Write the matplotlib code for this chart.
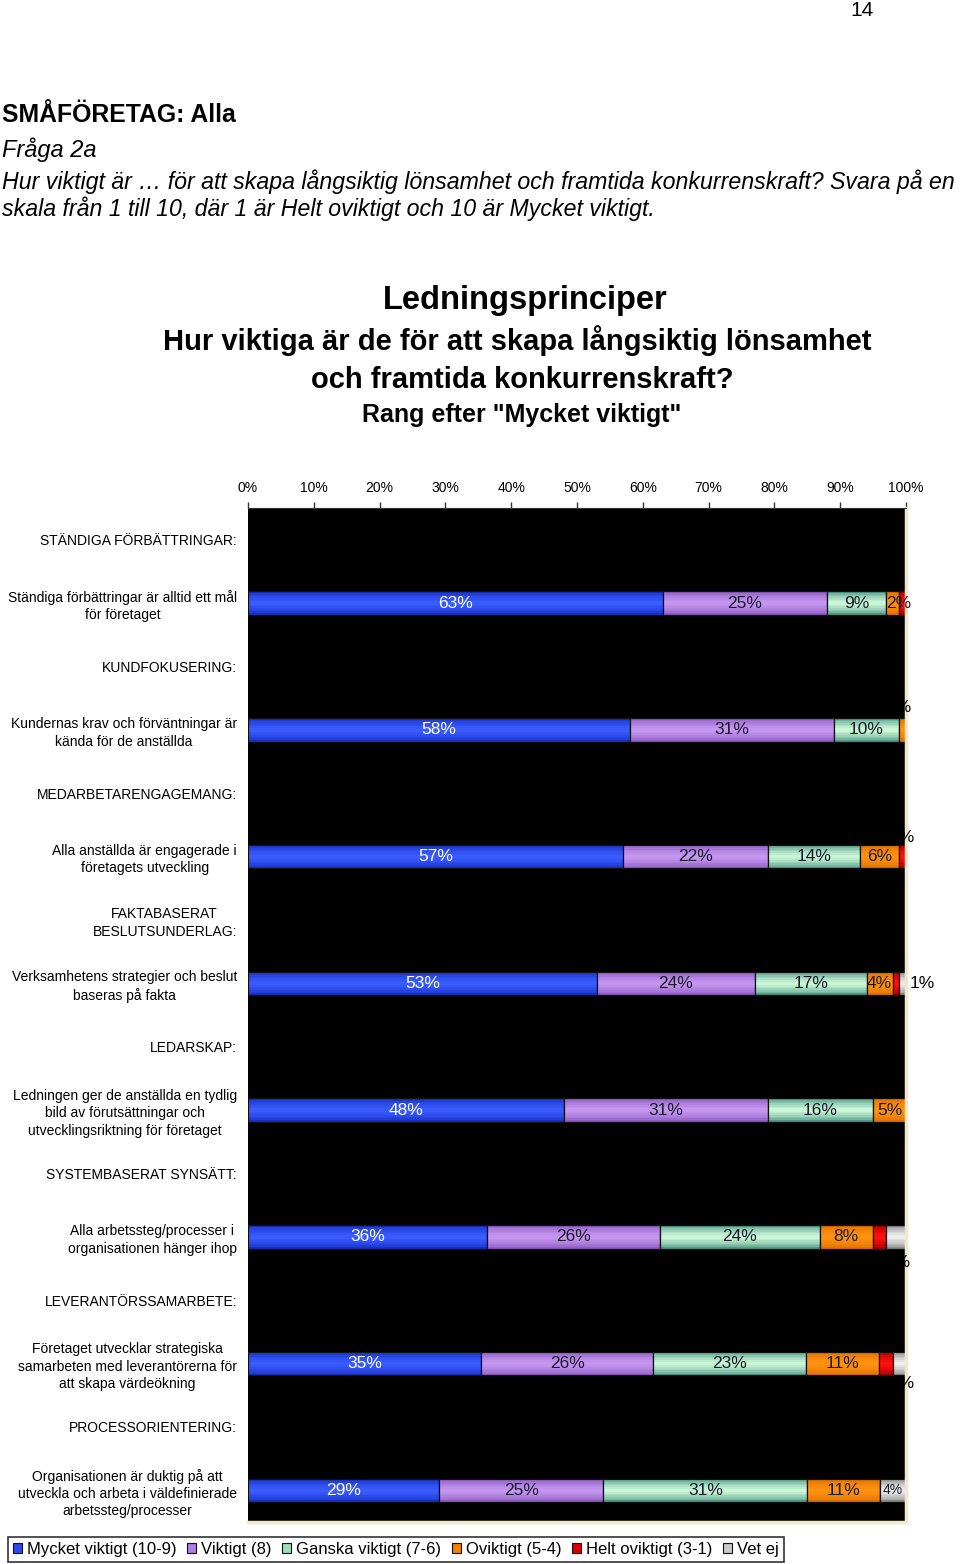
import matplotlib
matplotlib.use("Agg")
import matplotlib.pyplot as plt
from matplotlib.patches import Patch
from matplotlib.colors import to_rgb
import numpy as np

plt.rcParams["font.family"] = ["Liberation Sans", "DejaVu Sans"]

# rows of the chart, headers have no bar
row_labels = [
    "STÄNDIGA FÖRBÄTTRINGAR:",
    "Ständiga förbättringar är alltid ett mål\nför företaget",
    "KUNDFOKUSERING:",
    "Kundernas krav och förväntningar är\nkända för de anställda",
    "MEDARBETARENGAGEMANG:",
    "Alla anställda är engagerade i\nföretagets utveckling",
    "FAKTABASERAT\nBESLUTSUNDERLAG:",
    "Verksamhetens strategier och beslut\nbaseras på fakta",
    "LEDARSKAP:",
    "Ledningen ger de anställda en tydlig\nbild av förutsättningar och\nutvecklingsriktning för företaget",
    "SYSTEMBASERAT SYNSÄTT:",
    "Alla arbetssteg/processer i\norganisationen hänger ihop",
    "LEVERANTÖRSSAMARBETE:",
    "Företaget utvecklar strategiska\nsamarbeten med leverantörerna för\natt skapa värdeökning",
    "PROCESSORIENTERING:",
    "Organisationen är duktig på att\nutveckla och arbeta i väldefinierade\narbetssteg/processer",
]
bar_rows = [1, 3, 5, 7, 9, 11, 13, 15]

series_names = ["Mycket viktigt (10-9)", "Viktigt (8)", "Ganska viktigt (7-6)",
                "Oviktigt (5-4)", "Helt oviktigt (3-1)", "Vet ej"]
mycket = [63, 58, 57, 53, 48, 36, 35, 29]
viktigt = [25, 31, 22, 24, 31, 26, 26, 25]
ganska = [9, 10, 14, 17, 16, 24, 23, 31]
oviktigt = [2, 1, 6, 4, 5, 8, 11, 11]
helt = [1, 0, 1, 1, 0, 2, 2, 0]
vet_ej = [0, 0, 0, 1, 0, 3, 2, 4]

# (edge, centre) colour per series, bars get a soft horizontal gradient
shades = [
    ("#1630c8", "#3a5cff"),
    ("#8e5cc4", "#c596f0"),
    ("#4f9a88", "#cbf6d6"),
    ("#e07000", "#ff9210"),
    ("#a80000", "#ff1010"),
    ("#8a8a8a", "#eeeeee"),
]
legend_colors = ["#2a48f0", "#b07ee0", "#9fdcba", "#f08200", "#d80000", "#c8c8c8"]
text_colors = ["white", "#1a1a2a", "#1a1a2a", "#1a1a2a", "#1a1a2a", "#1a1a2a"]

# labels for thin segments that Excel moved off the bar: (row index, series) -> (dx, dy)
moved_labels = {
    (0, 3): (0.85, 0.0),
    (1, 3): (-0.5, -0.35),
    (2, 4): (0.0, -0.3),
    (3, 5): (3.0, 0.0),
    (5, 5): (0.3, 0.4),
    (6, 5): (0.3, 0.32),
}
hidden_labels = {(0, 4), (0, 5), (1, 4), (1, 5), (2, 5), (3, 4), (4, 4), (4, 5),
                 (5, 4), (6, 4), (7, 4)}

data = np.array([mycket, viktigt, ganska, oviktigt, helt, vet_ej], dtype=float)
shares = data / data.sum(axis=0) * 100

fig = plt.figure(figsize=(9.6, 15.64), dpi=100)
ax = fig.add_axes([248 / 960, 1 - 1522 / 1564, (906 - 248) / 960, (1522 - 508) / 1564])
ax.set_facecolor("black")

bar_h = 0.37
n_layers = 7
left = np.zeros(len(bar_rows))
for s in range(len(series_names)):
    edge, centre = np.array(to_rgb(shades[s][0])), np.array(to_rgb(shades[s][1]))
    w = shares[s]
    for k in range(n_layers):
        t = k / (n_layers - 1)
        col = edge + (centre - edge) * t ** 0.7
        ax.barh(bar_rows, w, left=left, height=bar_h * (1 - 0.85 * t), color=col, linewidth=0)
    ax.barh(bar_rows, w, left=left, height=bar_h, fill=False, edgecolor="#111111", linewidth=0.9)
    for i, y in enumerate(bar_rows):
        if data[s, i] == 0 or (i, s) in hidden_labels:
            continue
        x = left[i] + w[i] / 2
        dx, dy = moved_labels.get((i, s), (0, 0))
        size = 10 if (s == 5 and i == 7) else 12.5
        ax.text(x + dx, y + dy, f"{int(data[s, i])}%", ha="center", va="center",
                fontsize=size, color="black" if dy or s == 5 and dx else text_colors[s],
                clip_on=False)
    left += w

ax.set_xlim(0, 100)
ax.set_ylim(15.5, -0.5)
ax.xaxis.tick_top()
ax.set_xticks(range(0, 101, 10))
ax.set_xticklabels([f"{v}%" for v in range(0, 101, 10)], fontsize=10)
ax.tick_params(axis="x", direction="out", length=4, width=1, color="#333333", pad=5)
ax.set_yticks(range(len(row_labels)))
ax.set_yticklabels(row_labels, fontsize=10)
ax.tick_params(axis="y", length=0, pad=8)
for lab in ax.get_yticklabels():
    lab.set_multialignment("center")
    lab.set_linespacing(1.3)
ax.spines["left"].set_visible(False)
ax.spines["top"].set_color("#333333")
for side in ["right", "bottom"]:
    ax.spines[side].set_color("#efe9c8")
    ax.spines[side].set_linewidth(2.5)

# page header
fig.text(862 / 960, 1 - 11 / 1564, "14", fontsize=15, ha="center", va="center")
fig.text(2 / 960, 1 - 115 / 1564, "SMÅFÖRETAG: Alla", fontsize=17.8, fontweight="bold", va="center")
fig.text(2 / 960, 1 - 150 / 1564, "Fråga 2a", fontsize=17, style="italic", va="center")
fig.text(2 / 960, 1 - 182 / 1564,
         "Hur viktigt är … för att skapa långsiktig lönsamhet och framtida konkurrenskraft? Svara på en",
         fontsize=16.7, style="italic", va="center")
fig.text(2 / 960, 1 - 209 / 1564,
         "skala från 1 till 10, där 1 är Helt oviktigt och 10 är Mycket viktigt.",
         fontsize=16.7, style="italic", va="center")

# chart title
fig.text(525 / 960, 1 - 300 / 1564, "Ledningsprinciper", fontsize=23.5, fontweight="bold", ha="center", va="center")
fig.text(517 / 960, 1 - 341 / 1564, "Hur viktiga är de för att skapa långsiktig lönsamhet",
         fontsize=21, fontweight="bold", ha="center", va="center")
fig.text(522 / 960, 1 - 380 / 1564, "och framtida konkurrenskraft?",
         fontsize=21, fontweight="bold", ha="center", va="center")
fig.text(522 / 960, 1 - 415 / 1564, 'Rang efter "Mycket viktigt"',
         fontsize=18, fontweight="bold", ha="center", va="center")

handles = [Patch(facecolor=legend_colors[s], edgecolor="#111111", linewidth=0.8) for s in range(6)]
leg = fig.legend(handles, series_names, loc="lower left", bbox_to_anchor=(8 / 960, 2 / 1564),
                 ncol=6, fontsize=12, frameon=True, fancybox=False, edgecolor="black",
                 handlelength=0.55, handleheight=0.55, handletextpad=0.3, columnspacing=0.62,
                 borderpad=0.3, borderaxespad=0)
leg.get_frame().set_linewidth(1.2)

fig.savefig("out.png", dpi=100, facecolor="white")
